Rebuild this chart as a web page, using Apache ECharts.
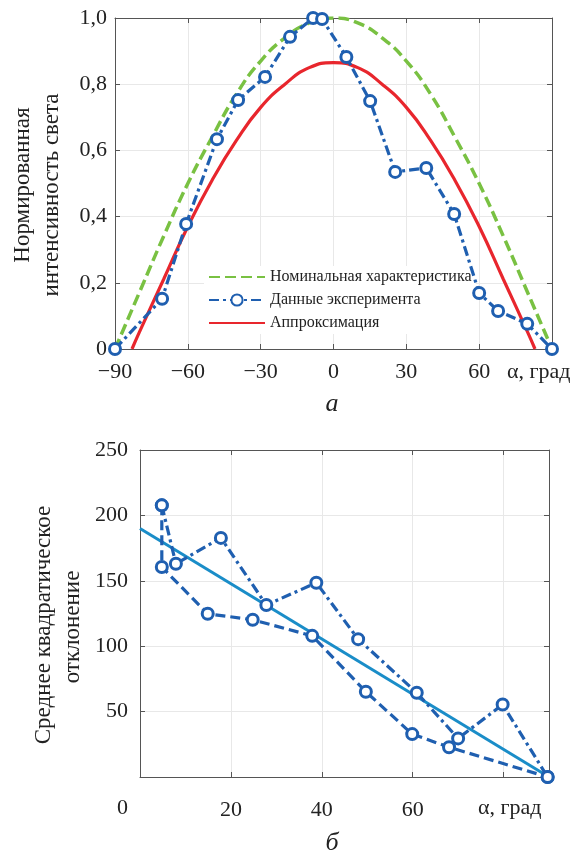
<!DOCTYPE html>
<html>
<head>
<meta charset="utf-8">
<script src="https://cdn.jsdelivr.net/npm/echarts@6/dist/echarts.min.js"></script>
<style>
  html, body { margin: 0; padding: 0; background: #fff; }
  #chart { width: 580px; height: 852px; }
</style>
</head>
<body>
<div id="chart"></div>
<script>
// верхний график: номинальная характеристика, эксперимент, аппроксимация
var nominal = [[-90, 0], [-80, 0.17], [-70, 0.34], [-60, 0.5], [-50, 0.64], [-40, 0.77], [-30, 0.87],
    [-20, 0.94], [-10, 0.985], [0, 1], [10, 0.985], [20, 0.94], [30, 0.87], [40, 0.77], [50, 0.64],
    [60, 0.5], [70, 0.34], [80, 0.17], [90, 0]];
var experiment = [[-90, 0], [-70.6, 0.152], [-60.7, 0.378], [-48, 0.634], [-39.3, 0.752], [-28.2, 0.822],
    [-17.9, 0.943], [-8.4, 1.0], [-4.7, 0.997], [5.3, 0.882], [15.1, 0.749], [25.4, 0.535], [38.2, 0.547],
    [49.7, 0.408], [60, 0.169], [67.8, 0.115], [79.8, 0.076], [90, 0]];
var approx = [[-83, 0], [-80, 0.05], [-70, 0.21], [-60, 0.37], [-50, 0.51], [-40, 0.63], [-30, 0.73],
    [-20, 0.8], [-10, 0.85], [0, 0.865], [10, 0.85], [20, 0.8], [30, 0.73], [40, 0.63], [50, 0.51],
    [60, 0.37], [70, 0.21], [80, 0.05], [83, 0]];

// нижний график: среднее квадратическое отклонение
var upperRun = [[4.8, 207.7], [7.9, 163], [17.8, 182.8], [27.8, 131.5], [38.8, 148.5], [48, 105.4],
    [60.9, 64.4], [70, 29.5], [79.8, 55.4], [89.7, 0]];
var lowerRun = [[4.8, 207.7], [4.8, 160.5], [14.9, 124.8], [24.8, 120.2], [37.9, 107.9], [49.7, 65.2],
    [59.9, 32.8], [68, 22.8], [89.7, 0]];
var trend = [[0, 190], [90, 0]];

var legendNames = ['Номинальная характеристика', 'Данные эксперимента', 'Аппроксимация'];

var serif = 'Liberation Serif';
var axisColor = '#555';
var gridColor = '#e8e8e8';
var blue = '#1f5fb0';

function boxAxis(gridIndex, pos, min, max, interval, labels) {
    return {
        type: 'value', gridIndex: gridIndex, position: pos, min: min, max: max, interval: interval,
        axisLine: { show: true, onZero: false, lineStyle: { color: axisColor, width: 1 } },
        axisTick: { show: true, inside: true, length: 5, lineStyle: { color: axisColor } },
        axisLabel: labels || { show: false },
        splitLine: { show: !!labels, lineStyle: { color: gridColor, width: 1 } }
    };
}

var chart = echarts.init(document.getElementById('chart'));

var option = {
    animation: false,
    backgroundColor: '#fff',
    textStyle: { fontFamily: serif },
    grid: [
        { left: 115, right: 28, top: 18, bottom: 503 },
        { left: 140, right: 31, top: 450, bottom: 75 }
    ],
    xAxis: [
        boxAxis(0, 'bottom', -90, 90, 30, {
            fontFamily: serif, fontSize: 22, color: '#222', margin: 12,
            formatter: function (v) {
                if (v === 90) return '';
                return v < 0 ? '\u2212' + Math.abs(v) : String(v);
            }
        }),
        boxAxis(0, 'top', -90, 90, 30),
        boxAxis(1, 'bottom', 0, 90, 20, {
            fontFamily: serif, fontSize: 22, color: '#222', margin: 22,
            formatter: function (v) { return (v === 0 || v >= 80) ? '' : String(v); }
        }),
        boxAxis(1, 'top', 0, 90, 20)
    ],
    yAxis: [
        boxAxis(0, 'left', 0, 1, 0.2, {
            fontFamily: serif, fontSize: 22, color: '#222', margin: 8,
            formatter: function (v) { return v === 0 ? '0' : v.toFixed(1).replace('.', ','); }
        }),
        boxAxis(0, 'right', 0, 1, 0.2),
        boxAxis(1, 'left', 0, 250, 50, {
            fontFamily: serif, fontSize: 22, color: '#222', margin: 12,
            formatter: function (v) { return v === 0 ? '' : String(v); }
        }),
        boxAxis(1, 'right', 0, 250, 50)
    ],
    legend: {
        data: [
            { name: legendNames[0], itemStyle: { opacity: 0 } },
            { name: legendNames[1] },
            { name: legendNames[2], itemStyle: { opacity: 0 } }
        ],
        orient: 'vertical',
        left: 204, top: 266,
        itemWidth: 56, itemHeight: 14, itemGap: 7,
        padding: [3, 4, 3, 4],
        backgroundColor: '#fff',
        textStyle: { fontFamily: serif, fontSize: 16, color: '#222' }
    },
    graphic: [
        { type: 'text', left: 507, top: 361, style: { text: 'α, град', font: '22px "Liberation Serif"', fill: '#222' } },
        { type: 'text', left: 478, top: 797, style: { text: 'α, град', font: '22px "Liberation Serif"', fill: '#222' } },
        { type: 'text', left: 117, top: 797, style: { text: '0', font: '22px "Liberation Serif"', fill: '#222' } },
        { type: 'text', x: 23, y: 185, rotation: Math.PI / 2,
          style: { text: 'Нормированная', font: '23px "Liberation Serif"', fill: '#222', align: 'center', verticalAlign: 'middle' } },
        { type: 'text', x: 52, y: 195, rotation: Math.PI / 2,
          style: { text: 'интенсивность света', font: '23px "Liberation Serif"', fill: '#222', align: 'center', verticalAlign: 'middle' } },
        { type: 'text', x: 44, y: 625, rotation: Math.PI / 2,
          style: { text: 'Среднее квадратическое', font: '23px "Liberation Serif"', fill: '#222', align: 'center', verticalAlign: 'middle' } },
        { type: 'text', x: 73, y: 627, rotation: Math.PI / 2,
          style: { text: 'отклонение', font: '23px "Liberation Serif"', fill: '#222', align: 'center', verticalAlign: 'middle' } },
        { type: 'text', x: 332, y: 404,
          style: { text: 'а', font: 'italic 26px "Liberation Serif"', fill: '#222', align: 'center', verticalAlign: 'middle' } },
        { type: 'text', x: 332, y: 843,
          style: { text: 'б', font: 'italic 26px "Liberation Serif"', fill: '#222', align: 'center', verticalAlign: 'middle' } }
    ],
    series: [
        {
            name: legendNames[0], type: 'line', xAxisIndex: 0, yAxisIndex: 0,
            data: nominal, smooth: true, showSymbol: false, symbol: 'none',
            lineStyle: { color: '#79c142', width: 3.5, type: [11, 5] },
            itemStyle: { color: '#79c142' }, z: 2
        },
        {
            name: legendNames[2], type: 'line', xAxisIndex: 0, yAxisIndex: 0,
            data: approx, smooth: true, showSymbol: false, symbol: 'none',
            lineStyle: { color: '#e8262d', width: 3.2 },
            itemStyle: { color: '#e8262d' }, z: 3
        },
        {
            name: legendNames[1], type: 'line', xAxisIndex: 0, yAxisIndex: 0,
            data: experiment, symbol: 'circle', symbolSize: 11, clip: false,
            lineStyle: { color: blue, width: 3.2, type: [10, 4, 3, 4] },
            itemStyle: { color: '#fff', borderColor: blue, borderWidth: 3 }, z: 4
        },
        {
            type: 'line', xAxisIndex: 2, yAxisIndex: 2,
            data: trend, symbol: 'none',
            lineStyle: { color: '#1a8dc8', width: 3 }, z: 3
        },
        {
            type: 'line', xAxisIndex: 2, yAxisIndex: 2,
            data: upperRun, symbol: 'circle', symbolSize: 11, clip: false,
            lineStyle: { color: blue, width: 3.2, type: [10, 4, 3, 4] },
            itemStyle: { color: '#fff', borderColor: blue, borderWidth: 3 }, z: 4
        },
        {
            type: 'line', xAxisIndex: 2, yAxisIndex: 2,
            data: lowerRun, symbol: 'circle', symbolSize: 11, clip: false,
            lineStyle: { color: blue, width: 3.2, type: [10, 5] },
            itemStyle: { color: '#fff', borderColor: blue, borderWidth: 3 }, z: 4
        }
    ]
};

chart.setOption(option);
</script>
</body>
</html>
